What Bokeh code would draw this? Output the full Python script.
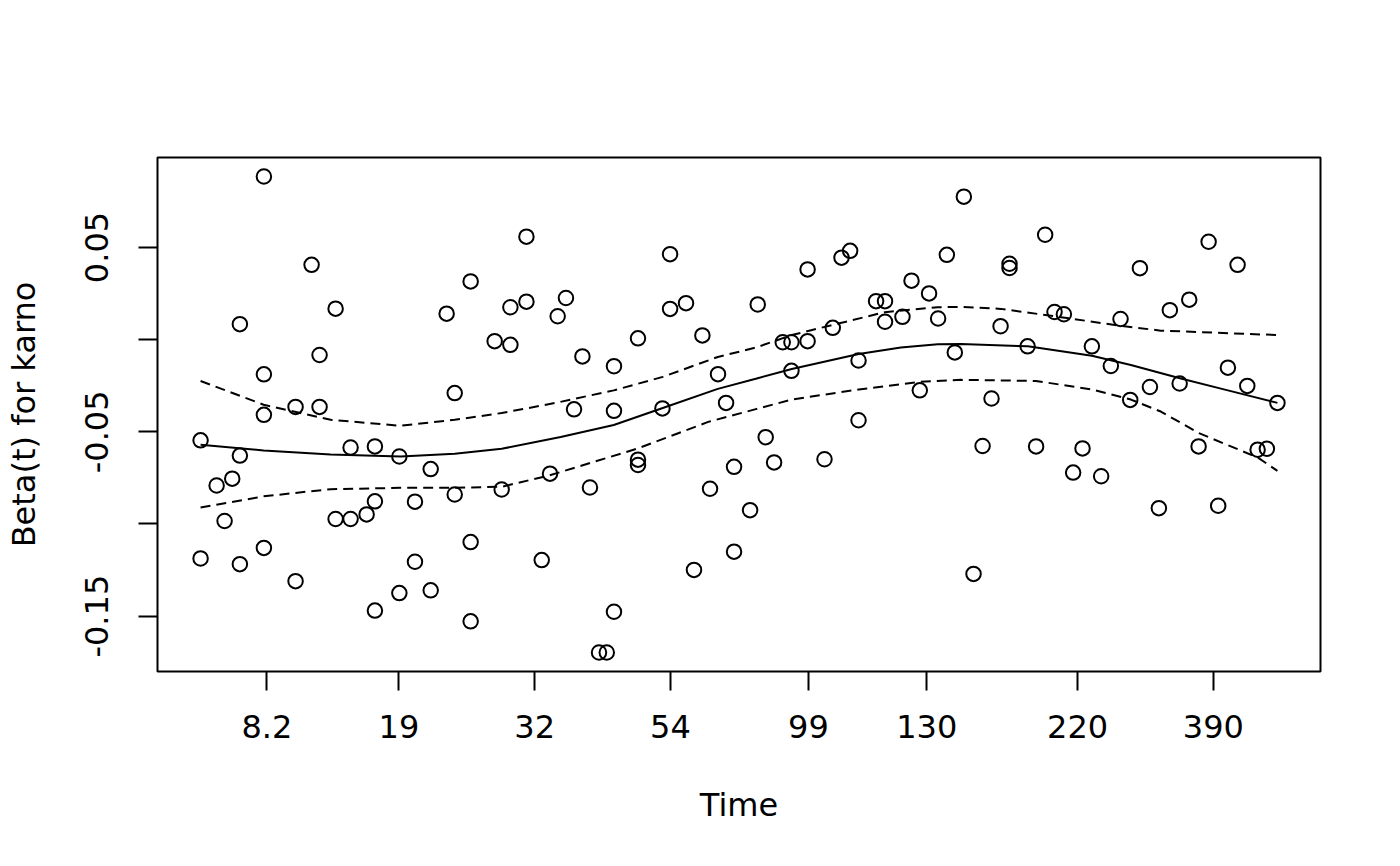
from bokeh.plotting import figure
from bokeh.models import Range1d, FixedTicker
from bokeh.embed import file_html
from bokeh.resources import INLINE

# Transformed (KM scale) time of each death and the scaled Schoenfeld residual for karno
km_time = [0.0, 0.0, 0.0149, 0.0223, 0.0294, 0.0365, 0.0365, 0.0365, 0.0588, 0.0588,
           0.0588, 0.0588, 0.0882, 0.0882, 0.1031, 0.1105, 0.1105, 0.1254, 0.1254, 0.1393,
           0.1393, 0.1542, 0.1619, 0.1619, 0.1619, 0.1846, 0.1846, 0.1991, 0.1991, 0.2137,
           0.2137, 0.2285, 0.2360, 0.2360, 0.2508, 0.2508, 0.2508, 0.2731, 0.2796, 0.2877,
           0.2877, 0.3026, 0.3026, 0.3168, 0.3245, 0.3316, 0.3393, 0.3468, 0.3546, 0.3616,
           0.3700, 0.3772, 0.3839, 0.3839, 0.3839, 0.4062, 0.4062, 0.4062, 0.4289, 0.4360,
           0.4360, 0.4508, 0.4582, 0.4660, 0.4731, 0.4805, 0.4880, 0.4954, 0.4954, 0.5103,
           0.5174, 0.5248, 0.5326, 0.5406, 0.5487, 0.5487, 0.5637, 0.5637, 0.5794, 0.5871,
           0.5952, 0.6032, 0.6110, 0.6110, 0.6273, 0.6356, 0.6356, 0.6518, 0.6602, 0.6679,
           0.6765, 0.6849, 0.6930, 0.7004, 0.7088, 0.7178, 0.7262, 0.7345, 0.7429, 0.7512,
           0.7512, 0.7680, 0.7759, 0.7843, 0.7930, 0.8017, 0.8103, 0.8190, 0.8277, 0.8363,
           0.8453, 0.8543, 0.8633, 0.8723, 0.8816, 0.8899, 0.9001, 0.9092, 0.9181, 0.9268,
           0.9361, 0.9450, 0.9540, 0.9630, 0.9720, 0.9816, 0.9902, 1.0]
beta_resid = [-0.0546, -0.1187, -0.0791, -0.0984, -0.0754, 0.0084, -0.0629, -0.1218, 0.0885, -0.0188,
              -0.0408, -0.1130, -0.0365, -0.1310, 0.0406, -0.0083, -0.0365, 0.0168, -0.0973, -0.0585,
              -0.0973, -0.0948, -0.0579, -0.0877, -0.1470, -0.0634, -0.1375, -0.0879, -0.1205, -0.0702,
              -0.1360, 0.0141, -0.0290, -0.0840, 0.0316, -0.1098, -0.1528, -0.0008, -0.0813, 0.0176,
              -0.0028, 0.0559, 0.0206, -0.1196, -0.0727, 0.0127, 0.0226, -0.0378, -0.0091, -0.0802,
              -0.1697, -0.1697, -0.0144, -0.0386, -0.1476, 0.0007, -0.0651, -0.0680, -0.0373, 0.0464,
              0.0167, 0.0198, -0.1249, 0.0023, -0.0809, -0.0187, -0.0343, -0.0690, -0.1150, -0.0925,
              0.0191, -0.0529, -0.0666, -0.0014, -0.0014, -0.0169, 0.0381, -0.0008, -0.0649, 0.0064,
              0.0445, 0.0482, -0.0113, -0.0437, 0.0209, 0.0097, 0.0209, 0.0124, 0.0320, -0.0275,
              0.0251, 0.0115, 0.0460, -0.0069, 0.0776, -0.1271, -0.0577, -0.0319, 0.0073, 0.0412,
              0.0389, -0.0036, -0.0579, 0.0569, 0.0150, 0.0138, -0.0721, -0.0590, -0.0036, -0.0741,
              -0.0143, 0.0112, -0.0327, 0.0388, -0.0257, -0.0914, 0.0160, -0.0238, 0.0217, -0.0579,
              0.0531, -0.0901, -0.0152, 0.0406, -0.0251, -0.0597, -0.0592, -0.0343]

# Smoothed beta(t) fit
fit_time = [0.0, 0.0585, 0.1208, 0.1858, 0.2360, 0.2796, 0.3344, 0.3837, 0.4292, 0.4803,
            0.5156, 0.5490, 0.6112, 0.6503, 0.6846, 0.7060, 0.7682, 0.8277, 0.8639, 0.9094,
            0.9540, 1.0]
fit_beta = [-0.0570, -0.0601, -0.0623, -0.0634, -0.0619, -0.0592, -0.0528, -0.0463, -0.0371, -0.0267,
            -0.0212, -0.0159, -0.0078, -0.0043, -0.0025, -0.0024, -0.0036, -0.0087, -0.0137, -0.0209,
            -0.0275, -0.0343]

# Upper confidence band
upper_time = [0.0, 0.0585, 0.1208, 0.1858, 0.2360, 0.2796, 0.3298, 0.3837, 0.4292, 0.4803,
              0.5156, 0.5490, 0.5871, 0.6354, 0.6844, 0.7060, 0.7432, 0.7930, 0.8545, 0.8917, 1.0]
upper_beta = [-0.0224, -0.0353, -0.0435, -0.0467, -0.0435, -0.0398, -0.0343, -0.0275, -0.0202, -0.0094,
              -0.0043, 0.0025, 0.0080, 0.0149, 0.0176, 0.0178, 0.0167, 0.0127, 0.0075, 0.0049, 0.0025]

# Lower confidence band
lower_time = [0.0, 0.0585, 0.1208, 0.1858, 0.2360, 0.2796, 0.3242, 0.4051, 0.4720, 0.5156,
              0.5490, 0.6112, 0.6679, 0.7060, 0.7757, 0.8277, 0.8639, 0.8917, 0.9271, 0.9819, 1.0]
lower_beta = [-0.0911, -0.0850, -0.0811, -0.0804, -0.0804, -0.0798, -0.0736, -0.0592, -0.0445, -0.0377,
              -0.0325, -0.0270, -0.0229, -0.0218, -0.0224, -0.0270, -0.0325, -0.0390, -0.0507, -0.0640,
              -0.0712]

# Axis ticks
x_tick_pos = [0.0616, 0.1842, 0.3103, 0.4363, 0.5645, 0.6744, 0.8144, 0.9405]
x_tick_labels = ["8.2", "19", "32", "54", "99", "130", "220", "390"]
y_tick_pos = [0.05, 0.0, -0.05, -0.1, -0.15]
y_tick_labels = ["0.05", "", "-0.05", "", "-0.15"]

FONT = "DejaVu Sans"
FS = "32px"

# R-style axis limits: data range extended by 4% on each side
xmin, xmax = min(km_time), max(km_time)
ymin, ymax = min(beta_resid), max(beta_resid)
xpad = 0.04 * (xmax - xmin)
ypad = 0.04 * (ymax - ymin)

p = figure(width=1384, height=850, output_backend="svg", toolbar_location=None,
           title=None, min_border_left=157, min_border_right=64,
           min_border_top=157, min_border_bottom=179,
           x_range=Range1d(xmin - xpad, xmax + xpad),
           y_range=Range1d(ymin - ypad, ymax + ypad))
p.background_fill_color = "white"
p.border_fill_color = "white"
p.outline_line_color = "black"
p.outline_line_width = 2
p.grid.visible = False

p.scatter(km_time, beta_resid, marker="circle", size=14.5, fill_color=None,
          line_color="black", line_width=2)
p.line(fit_time, fit_beta, line_color="black", line_width=2)
p.line(upper_time, upper_beta, line_color="black", line_width=2, line_dash="10 6")
p.line(lower_time, lower_beta, line_color="black", line_width=2, line_dash="10 6")

xa = p.xaxis[0]
xa.ticker = FixedTicker(ticks=x_tick_pos)
xa.major_label_overrides = {t: l for t, l in zip(x_tick_pos, x_tick_labels)}
xa.axis_label = "Time"

ya = p.yaxis[0]
ya.ticker = FixedTicker(ticks=y_tick_pos)
ya.major_label_overrides = {t: l for t, l in zip(y_tick_pos, y_tick_labels)}
ya.major_label_orientation = "vertical"
ya.axis_label = "Beta(t) for karno"

for ax in (xa, ya):
    ax.axis_line_color = None
    ax.minor_tick_line_color = None
    ax.major_tick_in = 0
    ax.major_tick_out = 19
    ax.major_tick_line_width = 2
    ax.major_tick_line_color = "black"
    ax.major_label_text_font = FONT
    ax.major_label_text_font_size = FS
    ax.major_label_text_color = "black"
    ax.axis_label_text_font = FONT
    ax.axis_label_text_font_size = FS
    ax.axis_label_text_font_style = "normal"
    ax.axis_label_text_color = "black"

xa.major_label_standoff = 24
xa.axis_label_standoff = 45
ya.major_label_standoff = 30
ya.axis_label_standoff = 40

open("out.html", "w").write(file_html(p, INLINE))
